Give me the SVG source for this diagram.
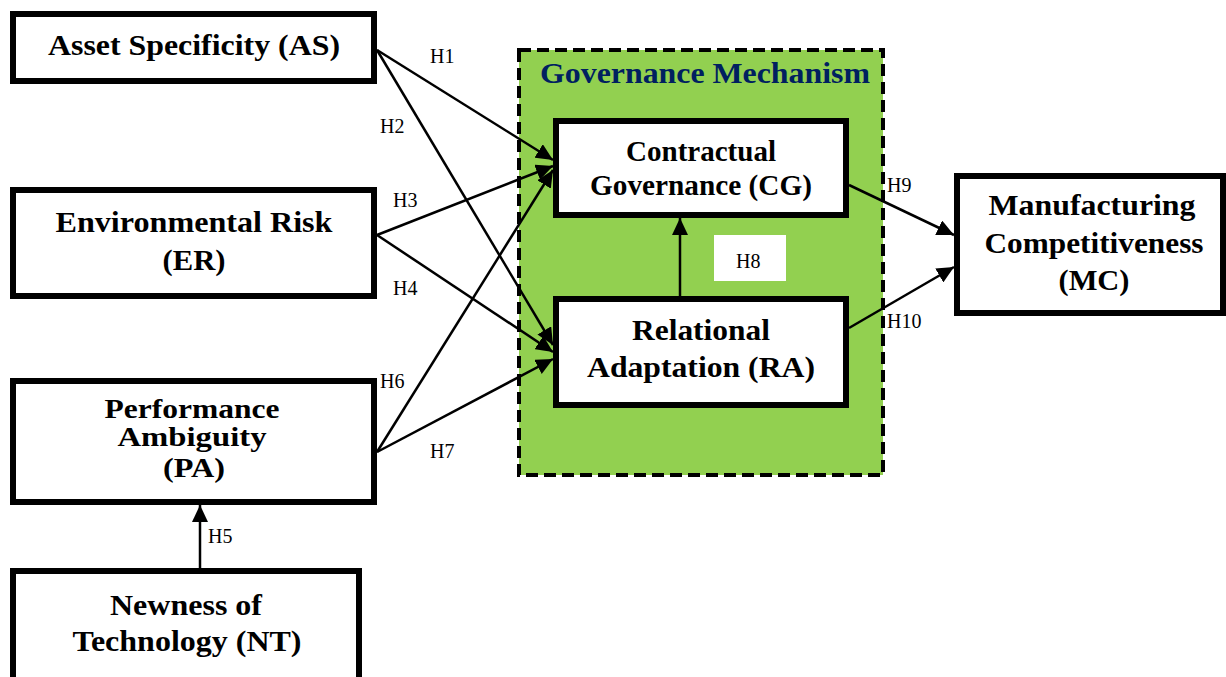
<svg xmlns="http://www.w3.org/2000/svg" width="1226" height="677" viewBox="0 0 1226 677">
<style>
.box{fill:#fff;stroke:#000;stroke-width:6}
.nt{font-family:"Liberation Serif","Times New Roman",serif;font-weight:bold;font-size:30px;fill:#000;text-anchor:middle}
.pa{font-size:27px}
.lbl{font-family:"Liberation Serif","Times New Roman",serif;font-size:20px;fill:#000}
.con{stroke:#000;stroke-width:2.5;fill:none;marker-end:url(#ah)}
.title{font-family:"Liberation Serif","Times New Roman",serif;font-weight:bold;font-size:30px;fill:#002060;text-anchor:middle}
</style>
<defs>
<marker id="ah" markerUnits="userSpaceOnUse" markerWidth="18" markerHeight="16" refX="17" refY="8" orient="auto">
<path d="M0,0 L17,8 L0,16 z" fill="#000"/>
</marker>
</defs>
<rect fill="#fff" x="0" y="0" width="1226" height="677"/>
<g id="governance-mechanism">
<rect x="519" y="50" width="364" height="425" fill="#92D050" stroke="#000" stroke-width="4" stroke-dasharray="12,6"/>
<text class="title" x="705" y="83" textLength="330" lengthAdjust="spacingAndGlyphs">Governance Mechanism</text>
</g>
<g id="connectors">
<line class="con" x1="377" y1="50" x2="553" y2="160"/>
<line class="con" x1="377" y1="50" x2="553" y2="345"/>
<line class="con" x1="377" y1="235" x2="553" y2="166"/>
<line class="con" x1="377" y1="235" x2="553" y2="352"/>
<line class="con" x1="377" y1="452" x2="553" y2="170"/>
<line class="con" x1="377" y1="452" x2="553" y2="359"/>
<line class="con" x1="200" y1="568" x2="200" y2="505"/>
<line class="con" x1="680" y1="296" x2="680" y2="218"/>
<line class="con" x1="849" y1="185" x2="954" y2="235"/>
<line class="con" x1="849" y1="328" x2="954" y2="267"/>
<rect x="714" y="235" width="72" height="46" fill="#fff"/>
<text class="lbl" x="430" y="63">H1</text>
<text class="lbl" x="380" y="133">H2</text>
<text class="lbl" x="393" y="207">H3</text>
<text class="lbl" x="393" y="295">H4</text>
<text class="lbl" x="208" y="543">H5</text>
<text class="lbl" x="380" y="388">H6</text>
<text class="lbl" x="430" y="458">H7</text>
<text class="lbl" x="736" y="268">H8</text>
<text class="lbl" x="887" y="192">H9</text>
<text class="lbl" x="887" y="328">H10</text>
</g>
<g id="AS">
<rect class="box" x="13" y="14" width="361" height="67"/>
<text class="nt" x="194" y="55" textLength="292" lengthAdjust="spacingAndGlyphs">Asset Specificity (AS)</text>
</g>
<g id="ER">
<rect class="box" x="13" y="190" width="361" height="106"/>
<text class="nt" x="194" y="232" textLength="277" lengthAdjust="spacingAndGlyphs">Environmental Risk</text>
<text class="nt" x="194" y="270" textLength="63" lengthAdjust="spacingAndGlyphs">(ER)</text>
</g>
<g id="PA">
<rect class="box" x="13" y="381" width="361" height="121"/>
<text class="nt pa" x="192" y="418" textLength="175" lengthAdjust="spacingAndGlyphs">Performance</text>
<text class="nt pa" x="192" y="446" textLength="149" lengthAdjust="spacingAndGlyphs">Ambiguity</text>
<text class="nt pa" x="194" y="477" textLength="62" lengthAdjust="spacingAndGlyphs">(PA)</text>
</g>
<g id="NT">
<rect class="box" x="13" y="571" width="346" height="120"/>
<text class="nt" x="186" y="615" textLength="152" lengthAdjust="spacingAndGlyphs">Newness of</text>
<text class="nt" x="187" y="651" textLength="229" lengthAdjust="spacingAndGlyphs">Technology (NT)</text>
</g>
<g id="CG">
<rect class="box" x="556" y="121" width="290" height="94"/>
<text class="nt" x="701" y="161" textLength="150" lengthAdjust="spacingAndGlyphs">Contractual</text>
<text class="nt" x="701" y="195" textLength="222" lengthAdjust="spacingAndGlyphs">Governance (CG)</text>
</g>
<g id="RA">
<rect class="box" x="556" y="299" width="290" height="106"/>
<text class="nt" x="701" y="340" textLength="138" lengthAdjust="spacingAndGlyphs">Relational</text>
<text class="nt" x="701" y="377" textLength="228" lengthAdjust="spacingAndGlyphs">Adaptation (RA)</text>
</g>
<g id="MC">
<rect class="box" x="957" y="176" width="266" height="137"/>
<text class="nt" x="1092" y="215" textLength="207" lengthAdjust="spacingAndGlyphs">Manufacturing</text>
<text class="nt" x="1094" y="253" textLength="219" lengthAdjust="spacingAndGlyphs">Competitiveness</text>
<text class="nt" x="1094" y="290" textLength="71" lengthAdjust="spacingAndGlyphs">(MC)</text>
</g>
</svg>
